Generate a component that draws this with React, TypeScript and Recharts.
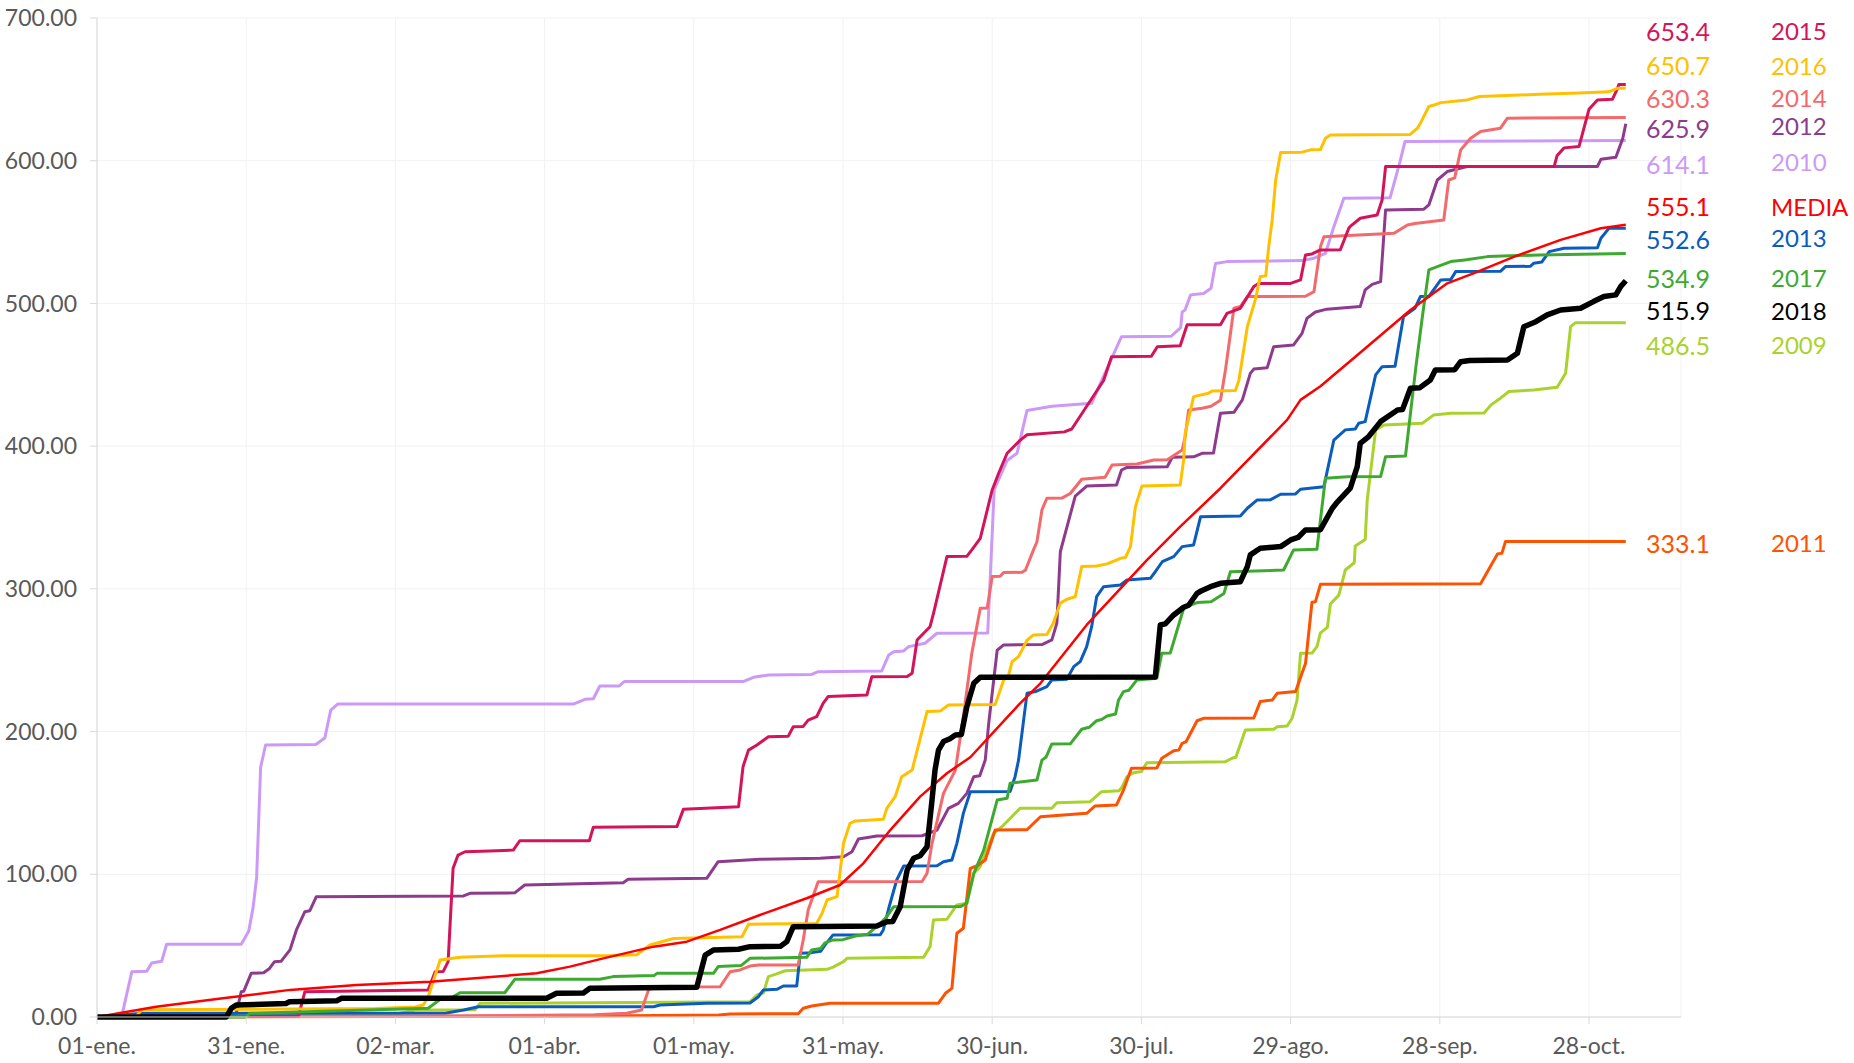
import React from 'react';
import { LineChart, Line, XAxis, YAxis, CartesianGrid } from 'recharts';

type P = [number, number];

const xTickDays = [0, 30, 60, 90, 120, 150, 180, 210, 240, 270, 300];
const xTickLabels = ['01-ene.', '31-ene.', '02-mar.', '01-abr.', '01-may.', '31-may.', '30-jun.', '30-jul.', '29-ago.', '28-sep.', '28-oct.'];
const yTicks = [0, 100, 200, 300, 400, 500, 600, 700];

const s2009: P[] = [[0,0],[60,2],[64,4.9],[76,5],[77,9.6],[131.3,10.7],[132.7,15.4],[134,17],[135,28.3],[136.5,30],[138.4,32.4],[146.8,33.4],[148,35],[150.1,38.8],[150.8,41.1],[166.2,41.8],[167.5,49.3],[168.2,68],[170.9,68.5],[172.9,78.5],[174.9,79.7],[176.3,100.7],[177.5,105],[180.3,128.7],[182.3,134.5],[185.6,146.2],[192,146.3],[193,150.2],[199.7,150.9],[202,157.9],[205.5,158.5],[206.1,161],[207.1,168.4],[208.4,171.2],[210,172],[211.1,178.2],[226.9,178.9],[228.2,181.3],[229,182],[230.9,201.1],[236.6,201.6],[237.3,203.4],[239.3,203.9],[240.3,209.3],[241.3,222.1],[242,254.9],[244.3,255],[245.3,259.5],[246,269.2],[247.4,273],[248,289.4],[249.7,295.6],[251,313.2],[252.8,318.3],[253,330],[255,334.6],[255.4,362],[257.1,411.4],[258.8,414.9],[266.5,416],[268.8,421.9],[272.2,423],[278.9,423.2],[280.3,428.9],[282.2,433.6],[283.9,438.3],[288.9,439.4],[293.6,441.3],[295.3,451.1],[296.3,483.7],[297.3,486.5],[307.4,486.5]];

const s2010: P[] = [[0,0],[5,1],[7,31.7],[10,32],[11,37.8],[13,39],[14,51],[29,51],[30.5,60],[31.4,77],[32.1,98],[32.9,175],[33.9,190.6],[44,191],[45.8,195.5],[47,215],[48.4,219.3],[95.8,219.3],[98.1,222.6],[99.8,223],[101.1,231.9],[105,232],[106,235],[129.9,235],[132,238],[135,239.7],[143.7,240],[145,242],[157.8,242.5],[159.2,253.7],[160.2,256],[162.2,256.5],[163.2,259.5],[166.5,261.9],[168.9,268.9],[179.1,269],[180.4,369.5],[183,390],[185,395],[185.6,404],[187,425],[192,428],[200,430],[202,446],[206,476.7],[216,477],[217.9,483],[218.2,494],[218.8,495.5],[219.9,506],[222.5,507],[224,510.7],[224.9,528],[227.2,529.3],[242.3,530],[244.7,531.7],[247,535],[248.7,553.8],[250.7,573.7],[260,574],[262,599.4],[263,613.4],[307.4,614.1]];

const s2011: P[] = [[0,0],[100,0.7],[125,1.4],[127.3,2.1],[141,2.3],[142,6.1],[143.7,7.7],[147.4,9.6],[169.2,9.7],[170.6,16.6],[171.9,20.1],[172.9,58.7],[174.2,62.2],[175.6,104.2],[177,106],[178.6,110],[180.6,131],[187,131.2],[189.7,140.3],[199,142.7],[200.7,147.9],[205,148.6],[206.4,159],[208,174.3],[213.1,174.5],[214.1,181.3],[216.5,186.6],[217.5,187],[218.2,191.8],[219,193],[221.2,207.6],[222.5,209.3],[232.6,209.5],[233.9,221],[236.3,222.1],[237.3,226.8],[241,228],[243,247.8],[244.3,290.6],[245,291],[246,303.2],[278.2,303.5],[281.6,324.5],[282.5,325],[283.2,333.1],[307.4,333.1]];

const s2012: P[] = [[0,0],[28,2.6],[29,17.7],[29.5,18],[31,30.6],[33.5,31],[34.7,34],[35.7,38.8],[37,39],[38.8,47],[40.1,61],[41.8,73.8],[42.8,74.5],[44.1,84.3],[73.7,84.8],[75,86.7],[84,87],[86,92.5],[105.8,94.1],[106.8,96.5],[122.6,97.2],[124.9,108.8],[133.3,110.5],[145.4,111.2],[150.1,112.3],[151.8,115.8],[153.1,124.7],[156.8,126.8],[165.9,127],[168.9,131],[171.2,146.2],[173.2,149.7],[174.9,156.7],[176.3,168.4],[177.5,169],[178.6,180],[179.3,205.8],[181,257],[182.3,260.7],[190,261],[192,264.2],[193,276],[193.7,326],[194.7,339],[196.7,365],[199,372],[205,372.8],[206,383.3],[207,385],[215.2,385.6],[216.2,392.2],[220.5,392.5],[222.2,395],[224.5,395.2],[225.9,423],[228.6,423.7],[230.3,432.4],[231.9,451],[232.6,454],[235.3,455],[236.6,469.7],[240.6,470.9],[242.3,479],[243.3,489.6],[245,494],[247.3,496],[254,497.8],[255,509.5],[256.4,513.4],[258.1,515.3],[259.1,565.5],[266.8,566],[267.8,569],[269.5,586.5],[271.5,592.4],[275.5,595.9],[301.7,596],[302.4,601],[305.4,602.4],[306.8,615.7],[307.4,625.9]];

const s2013: P[] = [[0,0],[9,2.6],[70,2.6],[73.7,4.9],[76.7,7.2],[111.9,7.2],[113.2,8.4],[122.6,9.6],[131.3,9.8],[133,14.2],[134,19],[136.7,19.4],[138,21.7],[140.7,21.8],[141.4,44.6],[143.7,45.1],[145.5,46],[146.4,50.5],[148,57.5],[157.5,57.6],[158.1,61],[159.2,76.2],[160.8,96],[162.2,105.8],[168.9,106],[170.2,108.8],[171.9,110],[172.9,121.7],[174.2,142.7],[175.6,157.8],[183.6,158],[184.6,168.4],[185.3,180],[187,226.8],[188.7,228],[191,231.5],[192,236.2],[195,236.6],[196.4,245.5],[197.7,249],[199,259.5],[200,273.5],[201,294.5],[202.4,301.5],[205.8,302.7],[207.1,306.2],[211.8,307.4],[212.8,312],[214.2,319],[216.5,322.6],[218.2,329.6],[220.5,330.8],[221.9,350.6],[229.9,351],[231.3,356.5],[233.3,362.3],[236,362.5],[238,366.3],[241,366.5],[242,369.8],[246.7,371.6],[248.7,404.3],[251,411.4],[253,412],[253.7,416],[255,417.2],[257.1,449.9],[258.4,455.7],[261,456],[262.7,490.8],[265,496.6],[266.1,504.8],[267.8,505],[270.2,516.5],[272.2,516.7],[273.2,522.3],[282.2,522.5],[283.2,525.8],[288.2,526],[288.9,528.2],[290.5,529],[292,536.3],[295,538.7],[301.7,539],[302.4,545.7],[304,552.6],[307.4,552.6]];

const s2014: P[] = [[0,0],[60,0.5],[100,1.5],[106.5,2.6],[109.5,4.9],[110.9,19],[112,21],[125.3,21.2],[127.3,31.7],[129.3,33],[131.3,35.7],[133,36.4],[141,36.5],[142,54],[143,75],[145,94.8],[165.9,95],[166.9,100.7],[167.9,121.7],[170.2,156.7],[172.6,173],[174.2,210.4],[175.9,254.9],[177.6,286.4],[179,286.6],[180,308.6],[181.6,308.8],[182.3,311.4],[186,311.6],[186.7,313.2],[188.3,327.3],[189,333],[190,355.3],[191,363.5],[194,363.6],[195.7,366.8],[198,376.8],[202.7,378.2],[204.1,386.8],[209.1,387.5],[212.5,390.3],[215.2,390.4],[218.2,397.3],[218.8,406.6],[219.5,425.4],[222.2,426.6],[224,428],[225.9,432.2],[226.9,453.4],[228.6,496.6],[229.9,497.8],[231.3,504.8],[243,505],[244.7,508.3],[246,539.8],[246.7,546.8],[260.8,549.2],[263.5,555],[265,556],[270.8,558.5],[271.8,586.5],[273,588],[274.2,607.6],[276.2,615.7],[278.2,620.4],[282.2,622.8],[283.6,629.8],[307.4,630.3]];

const s2015: P[] = [[0,0],[40.5,0.5],[41.8,17.7],[66.6,19],[68,31.7],[69.6,31.8],[70.6,38.8],[71.6,104.2],[72.6,113.5],[74,115.8],[79,116.3],[83.7,117],[85,123.5],[99,123.5],[99.8,133],[116.6,133.4],[117.9,145.5],[129,147.4],[129.9,175.4],[131,187],[132.7,190.6],[135,196.4],[139,196.8],[140,203.4],[142,203.6],[143,208],[144.7,210.4],[146,219.8],[147,224.5],[154.8,225.6],[155.8,238.5],[162.9,238.6],[163.9,240.8],[164.9,264.2],[167.5,273.5],[168.2,282.9],[170.9,322.6],[174.9,322.8],[175.9,327.3],[177.6,335.4],[180,369.3],[181.3,381],[183,395],[184.3,399.6],[185.6,404],[187,408],[194.5,410],[196,412],[202.4,446],[204,462.7],[212,463],[213.2,469.7],[217.8,470.4],[219.2,485],[225.9,485],[227.2,493],[229.9,496.6],[232.6,511.8],[233.6,514],[240,514],[242,516.5],[243,534],[244.3,534.7],[246,537.5],[250,537.6],[251.7,552.7],[252,554],[254,559.7],[257.4,562],[258.4,572.5],[259.1,595.9],[293,596],[293.6,603.7],[295,609],[298,610],[300,636],[301.7,642.6],[304.7,643],[305.7,650.4],[306,653.4],[307.4,653.4]];

const s2016: P[] = [[0,0],[8,1],[9,5],[56,6],[64,7],[65.6,8.4],[66.6,14.2],[69,40],[73,41.8],[81.7,43],[102.5,43],[108.5,43.6],[111.2,50.5],[115.9,55],[129.7,56.3],[131,65],[144.7,65.6],[145.8,72.7],[146.8,82],[148.8,84.3],[150.1,121.7],[151.4,135.7],[152.5,137.4],[158.1,138.5],[158.8,146.2],[160.5,154.4],[161.8,168.4],[163.9,173],[166.9,214],[169.6,214.5],[171.2,218.6],[180.6,219],[182.3,236],[183.3,239.6],[184,249],[185.3,252.5],[187,264],[188.3,267.7],[191,268],[192.3,276],[193.7,290],[195,292.7],[196.7,294.5],[198,315.6],[201,316],[203.1,317.5],[205.8,321.4],[206.8,322],[207.8,329.6],[208.8,357.6],[210.1,372],[217.8,372.8],[218.5,390.3],[218.8,409],[220.5,434.7],[223.5,437],[224.2,438.7],[228.9,439],[229.6,446],[231.3,483.7],[232.9,502.5],[233.9,518.8],[235,519.3],[235.6,539.8],[236.3,558.5],[237,586.5],[238,605.7],[242.3,606],[244,607.6],[246,607.8],[247,615.7],[248,618],[264,618.3],[265.5,622.8],[266.1,626.3],[267.8,638],[268.8,639],[270.2,640.7],[275.5,642.6],[278,645],[290,646.5],[298,647.5],[304,648.3],[305.7,650.7],[307.4,650.7]];

const s2017: P[] = [[0,0],[30,0],[30.7,2.6],[66.6,6.1],[69.3,13.1],[71.5,14],[73,17],[82,17],[84,26.4],[101.1,26.5],[103.8,28.3],[112,29],[112.6,30.6],[124,30.7],[124.9,35.3],[129.5,36],[131.3,41.1],[142.7,41.8],[143.7,47],[145.5,48],[146.4,52],[148,54],[150,54.2],[152.5,56.8],[155,58],[157.5,65.6],[158.8,70.3],[160.2,77.3],[173.6,77.4],[174.9,79.7],[176.3,100.7],[178.3,117],[181,152],[183,153.3],[183.6,163.8],[189,166],[190,180],[190.8,182],[192,191.3],[195.7,191.4],[198,201.6],[199.5,203],[201,207.6],[202,208.5],[203.1,210.9],[204.8,212.3],[205.4,222],[206.4,228],[207.5,229],[209.1,236.2],[213.1,237.4],[214.1,254.9],[215.8,255],[218.5,286.4],[219.5,288],[221.2,290.4],[224,291],[226.6,296.8],[227.9,312],[238.6,313.2],[240.6,327.3],[245.3,327.7],[247,377.5],[251.4,378.6],[258.1,378.7],[259.1,392.6],[263.1,393.1],[265.2,455.7],[266.5,490.8],[267.8,523.5],[269.5,525.8],[272.2,529.3],[275,530.5],[279.6,532.8],[290,534],[307.4,534.9]];

const s2018: P[] = [[0,0],[26,0],[27,6.1],[28,8.4],[38,9.5],[38.7,10.7],[48.2,11.4],[49.2,13.1],[90.4,13.1],[92.4,16.6],[97.8,16.8],[99.1,20.1],[120.6,20.8],[122.3,43.4],[124,47],[129,47.5],[131.3,49.3],[137.4,49.5],[138.7,52.8],[140,63.3],[156.8,63.8],[158.8,66.8],[160,67],[161.5,77.3],[162.9,103],[164.2,111.2],[165.5,113],[166.9,119.3],[167.9,152],[168.5,173],[169.2,187],[170.2,193],[171.5,195],[172.6,197.6],[173.8,198],[174.9,217.4],[176.3,233.8],[177.6,238],[212.8,238.3],[213.8,274.7],[214.8,275.5],[216.5,281.7],[218.5,287.1],[219.5,288.5],[221.2,296.9],[222,298.5],[223.9,301.5],[225.9,303.9],[229.9,305],[231.3,315.6],[231.9,323.8],[233.9,328.5],[238,329.6],[240,334.3],[241.5,336],[243,341.3],[246,341.5],[248.4,356.5],[249.2,360],[252,370.5],[253.4,385.6],[254,402],[255.7,406.7],[258.1,417.2],[261.5,425.4],[262.5,425.6],[264.1,440.6],[266,441],[268.1,446.4],[269.1,453.4],[273,453.6],[274.2,459.2],[276,460],[283.6,460.4],[285.6,465.1],[286.9,483.7],[289.3,487.2],[291.6,492],[294.3,495.4],[298.3,496.6],[300.9,501.3],[303,504.8],[305.4,506],[306.4,512],[307.4,515.9]];

const sMedia: P[] = [[0,0],[11.9,7.2],[25.3,13.1],[38.8,19],[52.2,22.4],[67,24.7],[88.4,30.6],[95.1,35.3],[101.8,41.1],[111.9,49.3],[118.6,52.8],[125.3,61],[133.3,71.5],[142.7,83.2],[149.4,92.5],[154.1,107.7],[159.5,131],[165.5,154.4],[170.9,170.8],[175.6,182],[185.6,219.8],[189.7,233.8],[199,274.7],[211.1,320.2],[217.8,343.6],[225.9,370.5],[239.3,418.4],[242,432.4],[246,442],[255.4,469.7],[264.1,495.4],[271.5,514.1],[276.9,521.2],[285,532.8],[294.3,544.5],[302.4,552.7],[307.4,555.1]];

// draw order (bottom to top)
const seriesNames = ['2009', '2010', '2011', '2012', '2013', '2014', '2015', '2016', '2017', 'MEDIA', '2018'];
const seriesPoints: P[][] = [s2009, s2010, s2011, s2012, s2013, s2014, s2015, s2016, s2017, sMedia, s2018];

// right side labels (top to bottom)
const labelNames = ['2015', '2016', '2014', '2012', '2010', 'MEDIA', '2013', '2017', '2018', '2009', '2011'];
const labelValues = ['653.4', '650.7', '630.3', '625.9', '614.1', '555.1', '552.6', '534.9', '515.9', '486.5', '333.1'];

const COLORS: Record<string, string> = {
  '2009': '#A9D22C',
  '2010': '#CC99F7',
  '2011': '#FF5200',
  '2012': '#8E3B8E',
  '2013': '#0A5CBE',
  '2014': '#F4696B',
  '2015': '#D4145A',
  '2016': '#FFC000',
  '2017': '#3DAA2F',
  'MEDIA': '#FF0000',
  '2018': '#000000',
};
const WIDTHS: Record<string, number> = { '2018': 5.5, MEDIA: 2.5 };

// layout of right-side labels (pixel centres)
const LABEL_VALUE_X = 1646;
const LABEL_NAME_X = 1771;
const LABEL_VALUE_Y = [31, 65, 98, 128, 164, 206, 239, 278, 310, 345, 543];
const LABEL_NAME_Y = [30, 65, 97, 125, 161, 206, 237, 277, 310, 344, 542];

const FONT = 'Lato, "Open Sans", sans-serif';
const tickStyle = { fill: '#595959', fontSize: 23, fontFamily: FONT };

export default function App() {
  const series = seriesNames.map((name, i) => ({
    name,
    data: seriesPoints[i].map(([d, v]) => ({ d, v })),
  }));
  return (
    <div style={{ position: 'absolute', left: 0, top: 0, width: 1854, height: 1063, background: '#fff' }}>
      <LineChart width={1854} height={1063} margin={{ top: 18, right: 173, bottom: 6, left: 0 }}>
        <CartesianGrid stroke="#f1f1f1" />
        <XAxis
          type="number"
          dataKey="d"
          domain={[0, 318.5]}
          ticks={xTickDays}
          interval={0}
          tickFormatter={(v: number) => xTickLabels[xTickDays.indexOf(v)] ?? ''}
          height={40}
          stroke="#d9d9d9"
          tickSize={7}
          tickMargin={14}
          tick={tickStyle}
          allowDataOverflow
        />
        <YAxis
          type="number"
          domain={[0, 700]}
          ticks={yTicks}
          interval={0}
          tickFormatter={(v: number) => v.toFixed(2)}
          width={97}
          stroke="#d9d9d9"
          tickSize={7}
          tickMargin={13}
          tick={tickStyle}
        />
        {series.map((s) => (
          <Line
            key={s.name}
            data={s.data}
            dataKey="v"
            type="linear"
            stroke={COLORS[s.name]}
            strokeWidth={WIDTHS[s.name] ?? 3}
            dot={false}
            activeDot={false}
            isAnimationActive={false}
            strokeLinejoin="round"
          />
        ))}
      </LineChart>
      <svg width={1854} height={1063} style={{ position: 'absolute', left: 0, top: 0, pointerEvents: 'none' }}>
        {labelNames.map((n, i) => (
          <g key={n}>
            <text x={LABEL_VALUE_X} y={LABEL_VALUE_Y[i]} dominantBaseline="central" fill={COLORS[n]} fontSize={25} fontFamily={FONT}>
              {labelValues[i]}
            </text>
            <text x={LABEL_NAME_X} y={LABEL_NAME_Y[i]} dominantBaseline="central" fill={COLORS[n]} fontSize={24} fontFamily={FONT}>
              {n}
            </text>
          </g>
        ))}
      </svg>
    </div>
  );
}
